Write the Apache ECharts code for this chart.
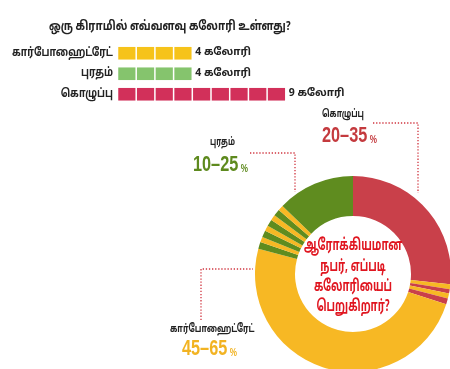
<!DOCTYPE html>
<html>
<head>
<meta charset="utf-8">
<script src="https://cdn.jsdelivr.net/npm/echarts@6/dist/echarts.min.js"></script>
<style>
  html, body { margin: 0; padding: 0; background: #ffffff; }
  #chart { width: 450px; height: 369px; }
</style>
</head>
<body>
<div id="chart"></div>
<script>
// ---- Data ----
const chartTitle = 'ஒரு கிராமில் எவ்வளவு கலோரி உள்ளது?';
const barCategories = ['கார்போஹைட்ரேட்', 'புரதம்', 'கொழுப்பு'];
const caloriesPerGram = [4, 4, 9];
const calorieUnit = 'கலோரி';

// Donut segments, clockwise from 12 o'clock (values in degrees of the ring)
const ringNames = ['கொழுப்பு', 'கார்போஹைட்ரேட்', 'கொழுப்பு', 'கார்போஹைட்ரேட்', 'கொழுப்பு',
  'கார்போஹைட்ரேட்', 'புரதம்', 'கார்போஹைட்ரேட்', 'புரதம்', 'கார்போஹைட்ரேட்', 'புரதம்',
  'கார்போஹைட்ரேட்', 'புரதம்', 'கார்போஹைட்ரேட்', 'புரதம்'];
const ringValues = [96, 3, 2.5, 3, 3.5, 177, 4, 3.25, 4, 3.25, 4, 3.25, 4, 3.25, 46];

const rangeNames = ['கொழுப்பு', 'புரதம்', 'கார்போஹைட்ரேட்'];
const rangeValues = ['20–35', '10–25', '45–65'];
const centerLines = ['ஆரோக்கியமான', 'நபர், எப்படி', 'கலோரியைப்', 'பெறுகிறார்?'];

// ---- Styles ----
const squareColors = { 'கார்போஹைட்ரேட்': '#F6C31A', 'புரதம்': '#85C46D', 'கொழுப்பு': '#D2305A' };
const ringColors = { 'கொழுப்பு': '#C9404A', 'கார்போஹைட்ரேட்': '#F7B824', 'புரதம்': '#5F8C1F' };
const rangeColors = ['#C43A3E', '#5E8A1E', '#F2B322'];
const tamilFont = "'Noto Sans Tamil', 'Noto Sans', 'DejaVu Sans', sans-serif";
const numFont = "'Liberation Sans', 'DejaVu Sans', sans-serif";
const dotColor = '#D0343F';

const chart = echarts.init(document.getElementById('chart'), null, { renderer: 'canvas' });

const dotted = (pts) => ({
  type: 'polyline',
  shape: { points: pts },
  style: { stroke: dotColor, lineWidth: 1.3, lineDash: [1.3, 1.8], fill: null },
  z: 10
});

// condensed text: scaled horizontally around its anchor
const ctext = (text, x, y, font, fill, sx, align) => ({
  type: 'text', x: x, y: y, scaleX: sx, scaleY: 1,
  style: { text: text, font: font, fill: fill, align: align || 'left', verticalAlign: 'middle' },
  z: 10
});

const rangeNum = (idx, x, y) => ({
  type: 'text', x: x, y: y, scaleX: 0.74, scaleY: 1,
  style: {
    text: `{n|${rangeValues[idx]}} {p|%}`,
    verticalAlign: 'middle',
    rich: {
      n: { font: `bold 22px ${numFont}`, fill: rangeColors[idx] },
      p: { font: `bold 11px ${numFont}`, fill: rangeColors[idx], padding: [7, 0, 0, 0] }
    }
  }, z: 10
});

const graphics = [
  ctext(chartTitle, 49, 27, `bold 13px ${tamilFont}`, '#222', 0.8),
  dotted([[373, 123], [418, 123], [418, 193]]),
  dotted([[250, 153], [295, 153], [295, 192]]),
  dotted([[201, 320], [201, 269], [253, 269]]),
  ctext(rangeNames[0], 322, 115, `bold 11px ${tamilFont}`, '#222', 0.7),
  rangeNum(0, 322, 136),
  ctext(rangeNames[1], 210, 143, `bold 11px ${tamilFont}`, '#222', 0.68),
  rangeNum(1, 193, 165),
  ctext(rangeNames[2], 170, 330, `bold 11px ${tamilFont}`, '#222', 0.73),
  rangeNum(2, 182, 349)
];
barCategories.forEach((c, i) => {
  graphics.push(ctext(c, 113, 53.5 + i * 20.5, `bold 12px ${tamilFont}`, '#222', 0.8, 'right'));
});
centerLines.forEach((t, i) => {
  graphics.push(ctext(t, 353, 247 + i * 20.3, `bold 16px ${tamilFont}`, '#E0151F', 0.64, 'center'));
});

const option = {
  backgroundColor: '#ffffff',
  animation: false,
  grid: { left: 117.5, top: 43, width: 168.3, height: 61.5, containLabel: false },
  xAxis: { type: 'value', min: 0, max: 9, show: false },
  yAxis: {
    type: 'category', data: barCategories, inverse: true,
    axisLine: { show: false }, axisTick: { show: false },
    axisLabel: { show: false }
  },
  series: [
    {
      type: 'pictorialBar',
      data: caloriesPerGram.map((v, i) => ({ value: v, itemStyle: { color: squareColors[barCategories[i]] } })),
      symbol: 'rect',
      symbolRepeat: true,
      symbolSize: [17.2, 12.6],
      symbolMargin: '0.75!',
      label: {
        show: true, position: 'right', distance: 3,
        formatter: (p) => p.value + ' ' + calorieUnit,
        fontFamily: tamilFont, fontSize: 10.5, fontWeight: 'bold', color: '#222'
      }
    },
    {
      type: 'pie',
      center: [353, 274],
      radius: [58, 98],
      startAngle: 90,
      clockwise: true,
      avoidLabelOverlap: false,
      label: { show: false },
      labelLine: { show: false },
      emphasis: { disabled: true },
      itemStyle: { borderWidth: 0 },
      data: ringValues.map((v, i) => ({ name: ringNames[i], value: v, itemStyle: { color: ringColors[ringNames[i]] } }))
    }
  ],
  graphic: graphics
};
chart.setOption(option);
</script>
</body>
</html>
